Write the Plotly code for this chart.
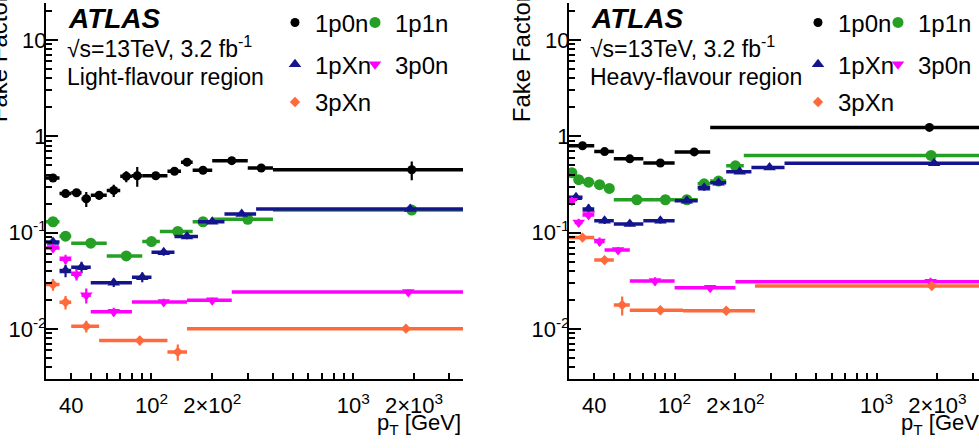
import math
import plotly.graph_objects as go

W, H = 979, 448
FONT = "Liberation Sans"

# ---------------- data: Light-flavour region ----------------
lf_1p0n_edges = [30, 35, 40, 45, 50, 60, 70, 80, 90, 120, 140, 160, 200, 300, 400, 3500]
lf_1p0n_ff = [0.37, 0.255, 0.26, 0.225, 0.245, 0.275, 0.385, 0.39, 0.39, 0.435, 0.54, 0.445, 0.56, 0.47, 0.45]
lf_1p0n_err = [0.02, 0.02, 0.025, 0.04, 0.025, 0.04, 0.05, 0.09, 0.015, 0.03, 0.04, 0.02, 0.02, 0.03, 0.1]

lf_1p1n_edges = [30, 35, 40, 60, 90, 110, 160, 200, 400, 3500]
lf_1p1n_ff = [0.13, 0.092, 0.078, 0.0575, 0.081, 0.103, 0.13, 0.138, 0.172]
lf_1p1n_err = [0.006, 0.005, 0.003, 0.003, 0.004, 0.004, 0.005, 0.005, 0.008]

lf_1pXn_edges = [30, 35, 40, 50, 80, 100, 130, 170, 230, 330, 3500]
lf_1pXn_ff = [0.08, 0.0406, 0.0439, 0.0303, 0.0346, 0.0627, 0.0916, 0.13, 0.156, 0.176]
lf_1pXn_err = [0.008, 0.006, 0.006, 0.003, 0.004, 0.005, 0.006, 0.006, 0.007, 0.008]

lf_3p0n_edges = [30, 35, 40, 45, 50, 80, 150, 250, 3500]
lf_3p0n_ff = [0.0695, 0.053, 0.037, 0.0224, 0.0151, 0.0191, 0.0199, 0.0243]
lf_3p0n_err = [0.007, 0.006, 0.005, 0.004, 0.0015, 0.0015, 0.0012, 0.0015]

lf_3pXn_edges = [30, 35, 40, 55, 120, 150, 3500]
lf_3pXn_ff = [0.029, 0.019, 0.0107, 0.0076, 0.0058, 0.0101]
lf_3pXn_err = [0.004, 0.003, 0.0015, 0.0008, 0.0011, 0.0006]

# ---------------- data: Heavy-flavour region ----------------
hf_1p0n_edges = [30, 40, 50, 70, 100, 150, 3500]
hf_1p0n_ff = [0.80, 0.695, 0.585, 0.53, 0.69, 1.24]
hf_1p0n_err = [0.03, 0.03, 0.025, 0.025, 0.03, 0.03]

hf_1p1n_edges = [30, 32, 35, 40, 45, 50, 80, 100, 130, 150, 180, 220, 3500]
hf_1p1n_ff = [0.42, 0.355, 0.335, 0.315, 0.288, 0.22, 0.22, 0.22, 0.322, 0.344, 0.495, 0.635]
hf_1p1n_err = [0.02, 0.015, 0.015, 0.015, 0.012, 0.008, 0.008, 0.01, 0.02, 0.02, 0.02, 0.02]

hf_1pXn_edges = [30, 35, 40, 50, 70, 100, 130, 150, 180, 240, 350, 3500]
hf_1pXn_ff = [0.233, 0.176, 0.133, 0.123, 0.133, 0.215, 0.293, 0.33, 0.43, 0.475, 0.525]
hf_1pXn_err = [0.02, 0.02, 0.01, 0.006, 0.008, 0.012, 0.02, 0.02, 0.02, 0.02, 0.03]

hf_3p0n_edges = [30, 32, 35, 40, 45, 60, 100, 200, 3500]
hf_3p0n_ff = [0.215, 0.128, 0.153, 0.081, 0.066, 0.0315, 0.0268, 0.031]
hf_3p0n_err = [0.02, 0.012, 0.012, 0.008, 0.005, 0.003, 0.0015, 0.003]

hf_3pXn_edges = [30, 40, 50, 60, 110, 250, 3500]
hf_3pXn_ff = [0.089, 0.052, 0.0178, 0.0157, 0.0155, 0.028]
hf_3pXn_err = [0.006, 0.005, 0.004, 0.0015, 0.001, 0.002]

names = ["1p0n", "1p1n", "1pXn", "3p0n", "3pXn"]
colors = ["#000000", "#25a025", "#14148c", "#ff00ff", "#ff6a3d"]
symbols = ["circle", "circle", "triangle-up", "triangle-down", "diamond"]
sizes = [9, 11, 11, 11, 8]

x_tickvals = [40, 100, 200, 1000, 2000]
x_ticktext = ["40", "10<sup>2</sup>", "2×10<sup>2</sup>", "10<sup>3</sup>", "2×10<sup>3</sup>"]
x_minor = [50, 60, 70, 80, 90, 300, 400, 500, 600, 700, 800, 900, 3000]
x_long = [100, 1000]
y_tickvals = [0.01, 0.1, 1, 10]
y_ticktext = ["10<sup>-2</sup>", "10<sup>-1</sup>", "1", "10"]
y_minor = [m * 10 ** e for e in (-3, -2, -1, 0, 1) for m in range(2, 10) if 0.003 <= m * 10 ** e <= 25]

lf = [(lf_1p0n_edges, lf_1p0n_ff, lf_1p0n_err), (lf_1p1n_edges, lf_1p1n_ff, lf_1p1n_err),
      (lf_1pXn_edges, lf_1pXn_ff, lf_1pXn_err), (lf_3p0n_edges, lf_3p0n_ff, lf_3p0n_err),
      (lf_3pXn_edges, lf_3pXn_ff, lf_3pXn_err)]
hf = [(hf_1p0n_edges, hf_1p0n_ff, hf_1p0n_err), (hf_1p1n_edges, hf_1p1n_ff, hf_1p1n_err),
      (hf_1pXn_edges, hf_1pXn_ff, hf_1pXn_err), (hf_3p0n_edges, hf_3p0n_ff, hf_3p0n_err),
      (hf_3pXn_edges, hf_3pXn_ff, hf_3pXn_err)]

# legend text positions (px) for each series: (text x offset from panel origin, row y)
leg_text_x = [315, 395, 315, 395, 315]
leg_row_y = [20, 20, 62, 62, 100]

fig = go.Figure()


def legend_name(k):
    return "legend" if k == 1 else "legend%d" % k


def add_panel(series, xa, ya, legend_base):
    for i, (edges, vals, errs) in enumerate(series):
        centers = [(a + b) / 2 for a, b in zip(edges[:-1], edges[1:])]
        ex_p = [b - c for b, c in zip(edges[1:], centers)]
        ex_m = [c - a for a, c in zip(edges[:-1], centers)]
        fig.add_trace(go.Scatter(
            x=centers, y=vals, mode="markers", name=names[i], showlegend=True,
            marker=dict(color=colors[i], symbol=symbols[i], size=sizes[i], line=dict(width=0)),
            error_x=dict(type="data", array=ex_p, arrayminus=ex_m, symmetric=False,
                         thickness=3.5, width=0, color=colors[i]),
            error_y=dict(type="data", array=errs, thickness=2.2, width=0, color=colors[i]),
            xaxis=xa, yaxis=ya, legend=legend_name(legend_base + i),
        ))


add_panel(lf, "x", "y", 1)
add_panel(hf, "x2", "y2", 6)

ybot = 379
yr = [math.log10(0.003), math.log10(0.003) + ybot / 97.0]
xl_dom = [46 / W, 463 / W]
xr_dom = [569 / W, 1.0]
y_dom = [1 - ybot / H, 1.0]
xr_range_l = [math.log10(30), math.log10(3500)]
xr_range_r = [math.log10(30), math.log10(30) + (979 - 569) / 202.0]

tickfont = dict(family=FONT, size=22, color="black")


def xaxis(dom, rng, anchor):
    return dict(type="log", domain=dom, range=rng, anchor=anchor, showline=True, linecolor="black",
                linewidth=2, ticks="inside", ticklen=6, tickwidth=1.5, tickcolor="black",
                tickmode="array", tickvals=x_tickvals, ticktext=x_ticktext, tickfont=tickfont,
                showgrid=False, zeroline=False, ticklabelstandoff=5, automargin=False,
                minor=dict(tickmode="array", tickvals=x_minor, ticks="inside", ticklen=6, tickwidth=1.5,
                           tickcolor="black", showgrid=False))


def xlong(over, dom, rng, anchor):
    return dict(type="log", domain=dom, range=rng, overlaying=over, anchor=anchor, side="bottom",
                showline=False, ticks="inside", ticklen=12, tickwidth=1.5, tickcolor="black",
                tickmode="array", tickvals=x_long, showticklabels=False, showgrid=False,
                zeroline=False, automargin=False)


def yaxis(anchor, side="left", over=None, labels=True):
    d = dict(type="log", domain=y_dom, range=yr, anchor=anchor, side=side, showline=True,
             linecolor="black", linewidth=2, ticks="inside", ticklen=12, tickwidth=1.5,
             tickcolor="black", tickmode="array", tickvals=y_tickvals, ticktext=y_ticktext,
             tickfont=tickfont, showticklabels=labels, showgrid=False, zeroline=False,
             ticklabelstandoff=-7, automargin=False,
             minor=dict(tickmode="array", tickvals=y_minor, ticks="inside", ticklen=6, tickwidth=1.5,
                        tickcolor="black", showgrid=False))
    if over:
        d["overlaying"] = over
    return d


def legend(xpx, ypx):
    return dict(x=(xpx - 40) / W, y=1 - ypx / H, xanchor="left", yanchor="middle", orientation="v",
                bgcolor="rgba(0,0,0,0)", borderwidth=0, font=dict(family=FONT, size=24, color="black"),
                itemwidth=30, tracegroupgap=0, visible=True)


layout = dict(
    width=W, height=H, margin=dict(l=0, r=0, t=0, b=0), paper_bgcolor="white", plot_bgcolor="white",
    font=dict(family=FONT, color="black"), showlegend=True,
    xaxis=xaxis(xl_dom, xr_range_l, "y"),
    yaxis=yaxis("x"),
    xaxis2=xaxis(xr_dom, xr_range_r, "y2"),
    yaxis2=yaxis("x2"),
    xaxis3=xlong("x", xl_dom, xr_range_l, "y"),
    xaxis4=xlong("x2", xr_dom, xr_range_r, "y2"),
    yaxis3=yaxis("x", side="right", over="y", labels=False),
)
for base, x0 in [(1, 0), (6, 523)]:
    for i in range(5):
        layout[legend_name(base + i)] = legend(x0 + leg_text_x[i], leg_row_y[i])
fig.update_layout(**layout)

ann = []


def txt(text, xpx, ypx, size=23, xanchor="left", yanchor="middle", angle=0):
    ann.append(dict(text=text, x=xpx / W, y=1 - ypx / H, xref="paper", yref="paper", showarrow=False,
                    xanchor=xanchor, yanchor=yanchor, textangle=angle,
                    font=dict(family=FONT, size=size, color="black")))


for x0, region in [(0, "Light-flavour region"), (523, "Heavy-flavour region")]:
    txt("<b><i>ATLAS</i></b>", x0 + 66, 16, size=28)
    txt("√s=13TeV, 3.2 fb<sup>-1</sup>", x0 + 65, 44, size=23)
    txt(region, x0 + 65, 74, size=23)

txt("p<sub>T</sub> [GeV]", 463, 424, size=22, xanchor="right")
txt("p<sub>T</sub> [GeV]", 987, 424, size=22, xanchor="right")
txt("Fake Factor", -2, 122, size=24, xanchor="center", yanchor="bottom", angle=-90)
txt("Fake Factor", 521, 122, size=24, xanchor="center", yanchor="bottom", angle=-90)
fig.update_layout(annotations=ann)

fig.write_html("out.html")
